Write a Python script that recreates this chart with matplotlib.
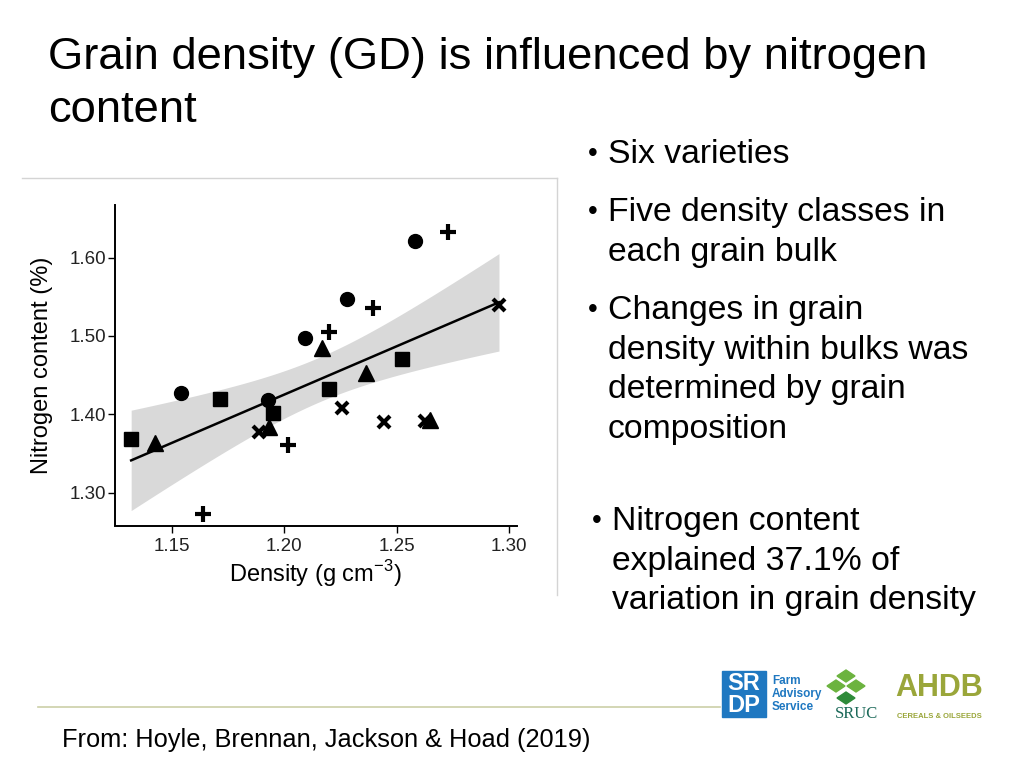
import matplotlib
matplotlib.use("Agg")
import matplotlib.pyplot as plt
import numpy as np
from matplotlib.lines import Line2D
from matplotlib.patches import Rectangle, Polygon

plt.rcParams['font.family'] = ['Liberation Sans', 'DejaVu Sans']
plt.rcParams['mathtext.fontset'] = 'custom'
plt.rcParams['mathtext.rm'] = 'Liberation Sans'

# Density (g cm-3) and nitrogen content (%) per variety
circle_x = [1.154, 1.1926, 1.2094, 1.2278, 1.2581]
circle_y = [1.427, 1.418, 1.4975, 1.547, 1.6216]
square_x = [1.132, 1.1714, 1.1949, 1.2198, 1.2525]
square_y = [1.368, 1.420, 1.402, 1.4326, 1.4708]
triangle_x = [1.1426, 1.1934, 1.2168, 1.2364, 1.2647]
triangle_y = [1.363, 1.384, 1.4847, 1.452, 1.393]
cross_x = [1.1886, 1.2256, 1.2442, 1.2624, 1.2954]
cross_y = [1.3775, 1.408, 1.390, 1.3915, 1.540]
plus_x = [1.1637, 1.2017, 1.2201, 1.2394, 1.2728]
plus_y = [1.2729, 1.361, 1.505, 1.5356, 1.633]

x_ticks = [1.15, 1.20, 1.25, 1.30]
y_ticks = [1.30, 1.40, 1.50, 1.60]

title = "Grain density (GD) is influenced by nitrogen\ncontent"
bullets = [
    "Six varieties",
    "Five density classes in\neach grain bulk",
    "Changes in grain\ndensity within bulks was\ndetermined by grain\ncomposition",
]
last_bullet = "Nitrogen content\nexplained 37.1% of\nvariation in grain density"
footer = "From: Hoyle, Brennan, Jackson & Hoad (2019)"

fig = plt.figure(figsize=(10.24, 7.68), dpi=100)
fig.patch.set_facecolor('white')

# slide title
fig.text(48 / 1024, 1 - 37 / 768, title, fontsize=32.7, va='top', ha='left',
         linespacing=1.37, color='black')

# frame round the pasted plot image
fig.add_artist(Line2D([22 / 1024, 557 / 1024], [1 - 178 / 768, 1 - 178 / 768],
                      color='#d4d4d4', lw=1))
fig.add_artist(Line2D([557 / 1024, 557 / 1024], [1 - 178 / 768, 1 - 595 / 768],
                      color='#d4d4d4', lw=1))

ax = fig.add_axes([114.5 / 1024, 1 - 525.5 / 768, (517 - 114.5) / 1024, (525.5 - 205) / 768])

all_x = np.array(circle_x + square_x + triangle_x + cross_x + plus_x)
all_y = np.array(circle_y + square_y + triangle_y + cross_y + plus_y)

# linear fit with 95% confidence band (like geom_smooth(method = "lm"))
slope, intercept = np.polyfit(all_x, all_y, 1)
n = len(all_x)
resid = all_y - (slope * all_x + intercept)
s = np.sqrt(np.sum(resid ** 2) / (n - 2))
sxx = np.sum((all_x - all_x.mean()) ** 2)
xs = np.linspace(all_x.min(), all_x.max(), 100)
fit = slope * xs + intercept
se = s * np.sqrt(1 / n + (xs - all_x.mean()) ** 2 / sxx)
t_val = 2.069
ax.fill_between(xs, fit - t_val * se, fit + t_val * se, color='#d9d9d9', lw=0, zorder=1)
ax.plot(xs, fit, color='black', lw=1.8, zorder=2)

ax.plot(circle_x, circle_y, 'o', color='black', ms=10, zorder=3)
ax.plot(square_x, square_y, 's', color='black', ms=9.5, zorder=3)
ax.plot(triangle_x, triangle_y, '^', color='black', ms=11, zorder=3)
ax.plot(cross_x, cross_y, 'x', color='black', ms=8.5, mew=3, zorder=3)
ax.plot(plus_x, plus_y, '+', color='black', ms=11, mew=3, zorder=3)

ax.set_xlim(1.1246, 1.3034)
ax.set_ylim(1.258, 1.667)
ax.set_xticks(x_ticks)
ax.set_xticklabels([f"{v:.2f}" for v in x_ticks])
ax.set_yticks(y_ticks)
ax.set_yticklabels([f"{v:.2f}" for v in y_ticks])
ax.tick_params(labelsize=13.5, labelcolor='#222222', length=5, width=1, direction='out')
ax.tick_params(axis='x', pad=4)
ax.tick_params(axis='y', pad=1)
for side in ['top', 'right']:
    ax.spines[side].set_visible(False)
for side in ['left', 'bottom']:
    ax.spines[side].set_linewidth(1.4)
ax.set_xlabel('Density (g cm$^{-3}$)', fontsize=17, labelpad=2)
ax.set_ylabel('Nitrogen content (%)', fontsize=17, labelpad=12)

# bullets on the right
def bullet(x, y, txt):
    fig.text((x - 2) / 1024, 1 - (y - 1) / 768, u"\u2022", fontsize=20, va='top', ha='left')
    fig.text((x + 18) / 1024, 1 - (y - 3) / 768, txt, fontsize=24.3, va='top',
             ha='left', linespacing=1.36)

bullet(590, 142, bullets[0])
bullet(590, 200, bullets[1])
bullet(590, 298, bullets[2])
bullet(594, 509, last_bullet)

# footer line and source
fig.add_artist(Line2D([38 / 1024, 720 / 1024], [1 - 707 / 768, 1 - 707 / 768],
                      color='#cccfa8', lw=1.2))
fig.text(62 / 1024, 1 - 740 / 768, footer, fontsize=18.3, va='center', ha='left')

# logos, drawn roughly
fig.add_artist(Rectangle((722 / 1024, 1 - 717 / 768), 44 / 1024, 46 / 768,
                         transform=fig.transFigure, color='#1f78c1'))
fig.text(744 / 1024, 1 - 683 / 768, "SR", fontsize=17, weight='bold', color='white',
         ha='center', va='center')
fig.text(744 / 1024, 1 - 705 / 768, "DP", fontsize=17, weight='bold', color='white',
         ha='center', va='center')
for i, word in enumerate(["Farm", "Advisory", "Service"]):
    fig.text(772 / 1024, 1 - (681 + i * 13) / 768, word, fontsize=8.5, weight='bold',
             color='#1f78c1', ha='left', va='center')
for cx, cy, col in [(846, 676, '#6cb33f'), (836, 686, '#6cb33f'), (856, 686, '#6cb33f'),
                    (846, 698, '#2e8b3a')]:
    pts = [((cx - 9) / 1024, 1 - cy / 768), (cx / 1024, 1 - (cy - 6) / 768),
           ((cx + 9) / 1024, 1 - cy / 768), (cx / 1024, 1 - (cy + 6) / 768)]
    fig.add_artist(Polygon(pts, closed=True, transform=fig.transFigure, color=col))
fig.text(856 / 1024, 1 - 714 / 768, "SRUC", fontsize=12, family='Liberation Serif',
         color='#1d6a5a', ha='center', va='center')
fig.text(939 / 1024, 1 - 688 / 768, "AHDB", fontsize=22, weight='bold', color='#9aa63a',
         ha='center', va='center')
fig.text(939 / 1024, 1 - 717 / 768, "CEREALS & OILSEEDS", fontsize=5.5, weight='bold',
         color='#9aa63a', ha='center', va='center')

fig.savefig('out.png', dpi=100)
